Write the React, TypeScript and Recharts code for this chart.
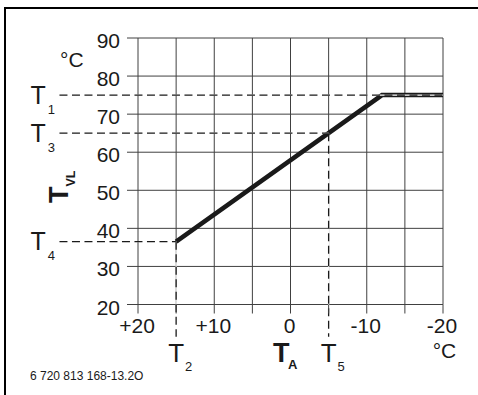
import { LineChart, Line, XAxis, YAxis, CartesianGrid, ReferenceLine } from 'recharts'

const FONT = '"Liberation Sans", Arial, Helvetica, sans-serif'
const INK = '#1a1a1a'
const GRID = '#404040'

// ─── Data ───────────────────────────────────────────────────────────────────
// Heizkennlinie: Außentemperatur (T_A) → Vorlauftemperatur (T_VL)
const CURVE_TA = [15, -12, -20]
const CURVE_TVL = [36.5, 75, 75]

const X_TICKS = [20, 15, 10, 5, 0, -5, -10, -15, -20]
const Y_TICKS = [20, 30, 40, 50, 60, 70, 80, 90]

// Kennpunkte
const T1 = 75
const T3 = 65
const T4 = 36.5
const T2 = 15
const T5 = -5
// Hilfslinien laufen über die Achsen hinaus
const GUIDE_LEFT = 30.3
const GUIDE_BOTTOM = 11.5

const data = CURVE_TA.map((ta, i) => ({ ta, tvl: CURVE_TVL[i] }))

const fmtX = (v: number) => (v > 0 ? `+${v}` : String(v))

// ─── Ticks ──────────────────────────────────────────────────────────────────
function YTick({ x, y, payload }: any) {
  return (
    <text x={x} y={y + 10} textAnchor="end" fontSize={21} fill={INK} fontFamily={FONT}>
      {payload.value}
    </text>
  )
}

function XTick({ x, y, payload }: any) {
  if (payload.value % 10 !== 0) return <g />
  return (
    <text x={x - 1} y={y + 19.5} textAnchor="middle" fontSize={21} fill={INK} fontFamily={FONT}>
      {fmtX(payload.value)}
    </text>
  )
}

// ─── Labels ─────────────────────────────────────────────────────────────────
function LeftTag({ viewBox, sub }: any) {
  if (!viewBox) return null
  return (
    <text x={viewBox.x - 29} y={viewBox.y + 8.5} fontSize={25} fill={INK} fontFamily={FONT}>
      T
      <tspan fontSize={13} dx={2} dy={10}>{sub}</tspan>
    </text>
  )
}

function BottomTag({ viewBox, sub }: any) {
  if (!viewBox) return null
  return (
    <text x={viewBox.x - 8} y={viewBox.y + viewBox.height + 25} fontSize={26} fill={INK} fontFamily={FONT}>
      T
      <tspan fontSize={13} dx={1} dy={9}>{sub}</tspan>
    </text>
  )
}

function XAxisTitle({ viewBox }: any) {
  const vb = viewBox ?? { x: 138, y: 304.5, width: 305, height: 30 }
  return (
    <g fontFamily={FONT} fill={INK}>
      <text x={vb.x + vb.width / 2 - 17.5} y={vb.y + 57.5} fontSize={27} fontWeight="bold">
        T
        <tspan fontSize={13} dx={-1.5} dy={7}>A</tspan>
      </text>
      <text x={vb.x + vb.width + 1.5} y={vb.y + 53.5} fontSize={21} textAnchor="middle">
        °C
      </text>
    </g>
  )
}

function YAxisTitle({ viewBox }: any) {
  const vb = viewBox ?? { x: 78, y: 38, width: 60, height: 266.5 }
  const right = vb.x + vb.width
  const tx = right - 70
  const ty = vb.y + 165
  return (
    <g fontFamily={FONT} fill={INK}>
      <text x={right - 78} y={vb.y + 29} fontSize={21}>
        °C
      </text>
      <text x={tx} y={ty} transform={`rotate(-90 ${tx} ${ty})`} fontSize={27} fontWeight="bold">
        T
        <tspan fontSize={12.5} dy={7}>VL</tspan>
      </text>
    </g>
  )
}

// dashed guide = white underlay + black dashes, so gaps read white over grid/curve
function Guide({ from, to, label }: any) {
  return [
    <ReferenceLine
      key="u"
      segment={[from, to]}
      stroke="#fff"
      strokeWidth={1.2}
      ifOverflow="visible"
    />,
    <ReferenceLine
      key="d"
      segment={[from, to]}
      stroke={INK}
      strokeWidth={1.3}
      strokeDasharray="8 4.5"
      ifOverflow="visible"
      label={label}
    />,
  ]
}

export default function App() {
  return (
    <div
      style={{
        position: 'absolute',
        left: 0,
        top: 0,
        width: 478,
        height: 395,
        overflow: 'hidden',
        background: '#fff',
      }}
    >
      {/* Rahmen (oben + links) */}
      <div
        style={{
          position: 'absolute',
          left: 4,
          top: 7,
          right: 0,
          bottom: 0,
          borderTop: '2px solid #000',
          borderLeft: '2px solid #000',
        }}
      />
      <div style={{ position: 'absolute', left: 0, top: 0 }}>
        <LineChart
          width={478}
          height={395}
          data={data}
          margin={{ top: 38, right: 35, bottom: 60.5, left: 78 }}
        >
          <CartesianGrid stroke={GRID} strokeWidth={1} />
          <XAxis
            dataKey="ta"
            type="number"
            domain={[-20, 20]}
            reversed
            ticks={X_TICKS}
            interval={0}
            height={30}
            tickSize={9}
            tickMargin={0}
            axisLine={false}
            tickLine={{ stroke: GRID }}
            tick={<XTick />}
            label={<XAxisTitle />}
          />
          <YAxis
            type="number"
            domain={[20, 90]}
            ticks={Y_TICKS}
            interval={0}
            width={60}
            tickSize={11}
            tickMargin={7}
            axisLine={false}
            tickLine={{ stroke: GRID }}
            tick={<YTick />}
            label={<YAxisTitle />}
          />
          <Line
            dataKey="tvl"
            type="linear"
            stroke={INK}
            strokeWidth={4.5}
            dot={false}
            activeDot={false}
            isAnimationActive={false}
          />
          {Guide({ from: { x: GUIDE_LEFT, y: T1 }, to: { x: -20, y: T1 }, label: <LeftTag sub="1" /> })}
          {Guide({ from: { x: GUIDE_LEFT, y: T3 }, to: { x: T5, y: T3 }, label: <LeftTag sub="3" /> })}
          {Guide({ from: { x: GUIDE_LEFT, y: T4 }, to: { x: T2, y: T4 }, label: <LeftTag sub="4" /> })}
          {Guide({ from: { x: T2, y: T4 }, to: { x: T2, y: GUIDE_BOTTOM }, label: <BottomTag sub="2" /> })}
          {Guide({ from: { x: T5, y: T3 }, to: { x: T5, y: GUIDE_BOTTOM }, label: <BottomTag sub="5" /> })}
        </LineChart>
      </div>
      <svg
        width={478}
        height={395}
        style={{ position: 'absolute', left: 0, top: 0, pointerEvents: 'none' }}
      >
        <text x={30} y={380} fontSize={12} fill={INK} fontFamily={FONT}>
          6 720 813 168-13.2O
        </text>
      </svg>
    </div>
  )
}
